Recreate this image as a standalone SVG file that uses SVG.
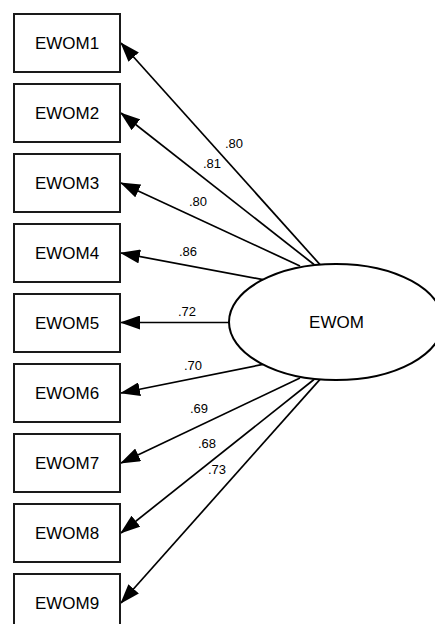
<svg xmlns="http://www.w3.org/2000/svg" width="435" height="624" viewBox="0 0 435 624">
  <style>
    .box { fill: #fff; stroke: #1a1a1a; stroke-width: 2; }
    .lat { fill: #fff; stroke: #000; stroke-width: 2; }
    .node-text { font-family: "Liberation Sans", Arial, sans-serif; font-size: 17px; fill: #000; text-anchor: middle; }
    .coef { font-family: "Liberation Sans", Arial, sans-serif; font-size: 13px; fill: #000; text-anchor: middle; }
    .path { stroke: #000; stroke-width: 1.7; fill: none; marker-end: url(#arrow); }
  </style>
  <defs>
    <marker id="arrow" markerUnits="userSpaceOnUse" viewBox="0 0 20 14" refX="19" refY="7" markerWidth="20" markerHeight="14" orient="auto">
      <path d="M0,0 L20,7 L0,14 z" fill="#000"/>
    </marker>
  </defs>
  <rect width="435" height="624" fill="#fff"/>

  <!-- factor loadings -->
  <g id="connectors">
    <line class="path" x1="320" y1="264.6" x2="121" y2="43"/>
    <line class="path" x1="314" y1="264.5" x2="121" y2="113"/>
    <line class="path" x1="300" y1="266" x2="121" y2="183"/>
    <line class="path" x1="263" y1="279.6" x2="121" y2="253"/>
    <line class="path" x1="229" y1="322.5" x2="121" y2="322.5"/>
    <line class="path" x1="263" y1="364.4" x2="121" y2="393"/>
    <line class="path" x1="300" y1="378" x2="121" y2="463"/>
    <line class="path" x1="314" y1="379.5" x2="121" y2="533"/>
    <line class="path" x1="320" y1="379.4" x2="121" y2="603"/>
  </g>

  <g id="coefficients">
    <text class="coef" x="234" y="148">.80</text>
    <text class="coef" x="212" y="168">.81</text>
    <text class="coef" x="198" y="206">.80</text>
    <text class="coef" x="188" y="256">.86</text>
    <text class="coef" x="187" y="316">.72</text>
    <text class="coef" x="193" y="370">.70</text>
    <text class="coef" x="199" y="413">.69</text>
    <text class="coef" x="207" y="448">.68</text>
    <text class="coef" x="217" y="474">.73</text>
  </g>

  <g id="EWOM">
    <ellipse class="lat" cx="336" cy="322" rx="107" ry="58"/>
    <text class="node-text" x="336.5" y="328">EWOM</text>
  </g>

  <g id="EWOM1"><rect class="box" x="14" y="14" width="106" height="58"/><text class="node-text" x="67" y="49">EWOM1</text></g>
  <g id="EWOM2"><rect class="box" x="14" y="84" width="106" height="58"/><text class="node-text" x="67" y="119">EWOM2</text></g>
  <g id="EWOM3"><rect class="box" x="14" y="154" width="106" height="58"/><text class="node-text" x="67" y="189">EWOM3</text></g>
  <g id="EWOM4"><rect class="box" x="14" y="224" width="106" height="58"/><text class="node-text" x="67" y="259">EWOM4</text></g>
  <g id="EWOM5"><rect class="box" x="14" y="294" width="106" height="58"/><text class="node-text" x="67" y="329">EWOM5</text></g>
  <g id="EWOM6"><rect class="box" x="14" y="364" width="106" height="58"/><text class="node-text" x="67" y="399">EWOM6</text></g>
  <g id="EWOM7"><rect class="box" x="14" y="434" width="106" height="58"/><text class="node-text" x="67" y="469">EWOM7</text></g>
  <g id="EWOM8"><rect class="box" x="14" y="504" width="106" height="58"/><text class="node-text" x="67" y="539">EWOM8</text></g>
  <g id="EWOM9"><rect class="box" x="14" y="574" width="106" height="58"/><text class="node-text" x="67" y="609">EWOM9</text></g>
</svg>
